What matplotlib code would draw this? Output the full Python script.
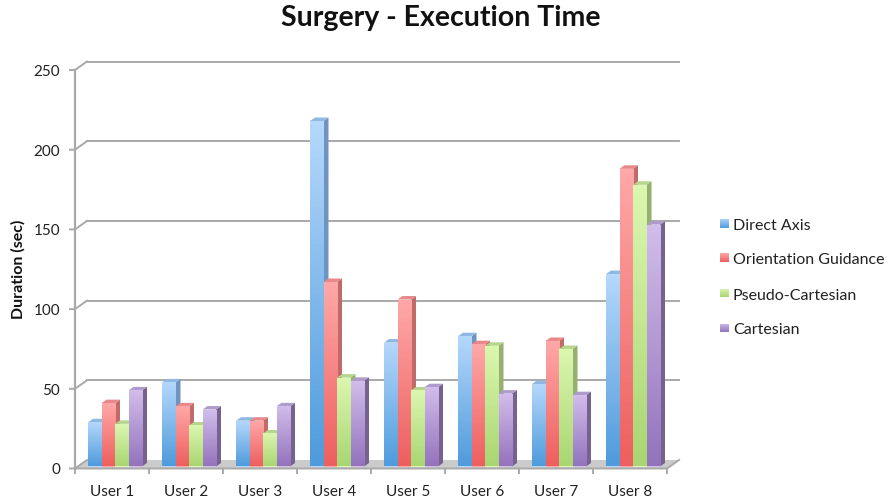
import matplotlib
matplotlib.use('Agg')
import matplotlib.pyplot as plt
import numpy as np
from matplotlib.colors import LinearSegmentedColormap
from matplotlib.patches import Polygon

users = ['User 1', 'User 2', 'User 3', 'User 4', 'User 5', 'User 6', 'User 7', 'User 8']
direct_axis = [29, 54, 30, 218, 79, 83, 53, 122]
orientation_guidance = [41, 39, 30, 117, 106, 78, 80, 188]
pseudo_cartesian = [28, 27, 22, 57, 49, 77, 75, 178]
cartesian = [49, 37, 39, 55, 51, 47, 46, 153]
y_ticks = [0, 50, 100, 150, 200, 250]

series_names = ['Direct Axis', 'Orientation Guidance', 'Pseudo-Cartesian', 'Cartesian']
series_values = [direct_axis, orientation_guidance, pseudo_cartesian, cartesian]
# bottom colour, top colour, side colour, top face colour
series_colors = [
    ('#4f9bdc', '#b5d8fb', '#6e94bf', '#8fb8e2'),
    ('#ee5f5f', '#ffa8a8', '#c06a6a', '#e88888'),
    ('#a9d672', '#dcf7b0', '#95b070', '#b5d68c'),
    ('#9473bd', '#d2bdeb', '#76628f', '#b09ccc'),
]

W, H = 891, 503
fig = plt.figure(figsize=(W / 100, H / 100), dpi=100)
plt.rcParams['font.family'] = ['Lato', 'DejaVu Sans']
ax = fig.add_axes([75 / W, 1 - 468.5 / H, 592 / W, 398.5 / H])
ax.set_xlim(0, 8)
ax.set_ylim(0, 250)
ax.axis('off')

# pixel sizes turned into data units
ux = 8 / 592
uy = 250 / 398.5
wall_dx = 12 * ux
wall_dy = 8.5 * uy
depth_dx = 5 * ux
depth_dy = 3.5 * uy
base = 2 * uy
grid_color = '#a9a9a9'

# floor
floor = Polygon([(0, 0), (8, 0), (8 + wall_dx, wall_dy), (wall_dx, wall_dy)],
                facecolor='#cbcbcb', edgecolor='none', zorder=1, clip_on=False)
ax.add_patch(floor)

# walls gridlines and y axis
for v in y_ticks:
    ax.plot([-5 * ux, 0, wall_dx], [v, v, v + wall_dy], color=grid_color, lw=1.4, clip_on=False, zorder=1)
    if v > 0:
        ax.plot([wall_dx, 8 + wall_dx], [v + wall_dy, v + wall_dy], color=grid_color, lw=1.4, clip_on=False, zorder=1)
    ax.text(-15 * ux, v - 2 * uy, str(v), ha='right', va='center', fontsize=11, color='#222222')
ax.plot([0, 0], [0, 250], color=grid_color, lw=1.6, clip_on=False, zorder=1)
ax.plot([0, 8, 8 + wall_dx], [0, 0, wall_dy], color=grid_color, lw=1.4, clip_on=False, zorder=1)
for i in range(9):
    ax.plot([i, i], [0, -4 * uy], color=grid_color, lw=1.4, clip_on=False, zorder=1)
for i, name in enumerate(users):
    ax.text(i + 0.5, -24 * uy, name, ha='center', va='center', fontsize=11, color='#222222')

# bars
bar_w = 13.5 * ux
start = 13 * ux
ramp = np.linspace(0, 1, 64).reshape(-1, 1)
for s in range(4):
    low, high, side, top = series_colors[s]
    cmap = LinearSegmentedColormap.from_list('bar%d' % s, [low, high])
    for i in range(8):
        v = series_values[s][i]
        x0 = i + start + s * bar_w
        z = 3 + i * 10 + s
        ax.add_patch(Polygon([(x0 + bar_w, base), (x0 + bar_w + depth_dx, base + depth_dy),
                              (x0 + bar_w + depth_dx, v + depth_dy), (x0 + bar_w, v)],
                             facecolor=side, edgecolor='none', zorder=z))
        ax.add_patch(Polygon([(x0, v), (x0 + bar_w, v), (x0 + bar_w + depth_dx, v + depth_dy),
                              (x0 + depth_dx, v + depth_dy)],
                             facecolor=top, edgecolor='none', zorder=z))
        bar = ax.bar(x0, v - base, bottom=base, width=bar_w, align='edge', color=high, zorder=z + 0.1)[0]
        im = ax.imshow(ramp, extent=[x0, x0 + bar_w, base, v], origin='lower', aspect='auto',
                       cmap=cmap, zorder=z + 0.2)
        im.set_clip_path(bar)
ax.set_xlim(0, 8)
ax.set_ylim(0, 250)

# legend
legend_y = [224, 259, 294, 329]
for s, name in enumerate(series_names):
    low, high = series_colors[s][:2]
    ypx = legend_y[s]
    cax = fig.add_axes([720 / W, 1 - (ypx + 3.5) / H, 9 / W, 9 / H])
    cax.imshow(ramp[::-1], aspect='auto', cmap=LinearSegmentedColormap.from_list('lg%d' % s, [low, high]))
    cax.axis('off')
    fig.text(733 / W, 1 - (ypx + 1.5) / H, name, ha='left', va='center', fontsize=11.5, color='#222222')

fig.text(441 / W, 1 - 18 / H, 'Surgery - Execution Time', ha='center', va='center',
         fontsize=20.5, fontweight='bold', color='#111111')
fig.text(18 / W, 1 - 269 / H, 'Duration (sec)', ha='center', va='center', rotation=90,
         fontsize=11.5, fontweight='bold', color='#111111')

fig.savefig('out.png', dpi=100)
